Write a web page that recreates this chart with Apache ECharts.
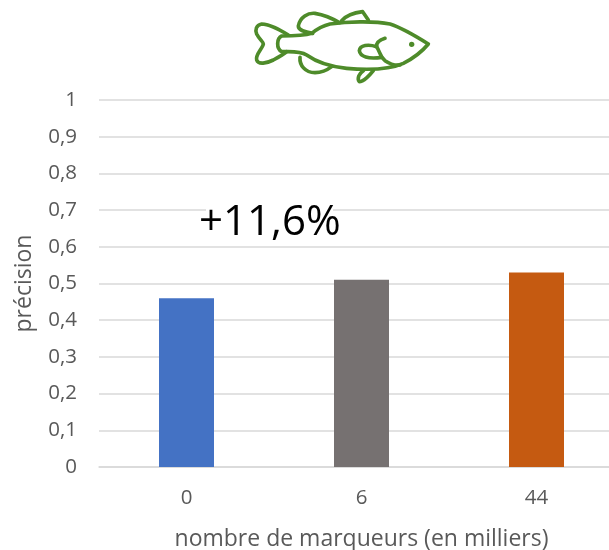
<!DOCTYPE html>
<html>
<head>
<meta charset="utf-8">
<style>html,body{margin:0;padding:0;background:#fff}#chart{width:609px;height:550px}</style>
<script src="https://cdn.jsdelivr.net/npm/echarts@6/dist/echarts.min.js"></script>
</head>
<body>
<div id="chart"></div>
<script>
const categories = ['0', '6', '44'];
const precision = [0.46, 0.51, 0.53];
const barColors = ['#4472C4', '#767171', '#C55A11'];
const gainLabel = '+11,6%';
const xTitle = 'nombre de marqueurs (en milliers)';
const yTitle = 'précision';

const FONT = '"Open Sans", sans-serif';
const INK = '#595959';

// Fish pictogram outlines, in a 3x drawing space
const fishStrokes = [
  'M145,105 C120,90 90,72 65,72 C48,75 45,90 50,102 C58,118 70,125 70,132 C68,145 45,165 50,180 C55,195 80,190 100,180 C115,172 135,160 140,155',
  'M215,100 C190,108 150,108 125,108 C110,115 108,145 125,155 C150,155 180,152 200,165 C235,190 270,200 320,205 C380,210 450,208 490,190 C520,175 550,150 565,132 C530,110 490,85 450,72 C400,62 320,65 270,72 C245,78 225,92 215,100',
  'M218,100 C190,95 175,90 175,78 C180,50 205,38 225,40 C255,45 285,60 298,68',
  'M305,62 C320,45 345,38 368,35 L385,60',
  'M180,172 C178,195 195,218 225,218 C245,218 262,210 275,200',
  'M400,212 C390,225 370,245 358,245 C350,235 358,220 370,212',
  'M410,140 C385,132 360,135 358,152 C360,170 385,178 425,172',
  'M435,115 C420,120 408,128 410,140 C420,155 420,170 435,182 C450,192 465,197 480,195'
];

// The graphic component only knows named shapes, so each outline is registered first
const fishGraphics = fishStrokes.map((d, i) => {
  const shapeName = 'fishStroke' + i;
  echarts.graphic.registerShape(shapeName, echarts.graphic.extendPath(d));
  return {
    type: shapeName,
    x: 240, y: 0, scaleX: 1 / 3, scaleY: 1 / 3,
    style: { fill: null, stroke: '#4E8B2A', lineWidth: 11, lineCap: 'round', lineJoin: 'round' }
  };
});

const chart = echarts.init(document.getElementById('chart'), null, { renderer: 'canvas' });
chart.setOption({
  animation: false,
  backgroundColor: '#fff',
  // The plot runs past the right edge of the page, so only the first 510px of its width show
  grid: { left: 99, top: 100, width: 525, height: 367, outerBoundsMode: 'none' },
  xAxis: {
    type: 'category',
    data: categories,
    name: xTitle,
    nameLocation: 'middle',
    nameGap: 61,
    nameTextStyle: { fontFamily: FONT, fontSize: 23, color: INK },
    nameMoveOverlap: false,
    axisTick: { show: false },
    axisLine: { lineStyle: { color: '#D9D9D9', width: 1.5 } },
    axisLabel: { fontFamily: FONT, fontSize: 20.5, color: INK, margin: 21 }
  },
  yAxis: {
    type: 'value',
    min: 0, max: 1, interval: 0.1,
    name: yTitle,
    nameLocation: 'middle',
    nameGap: 63,
    nameTextStyle: { fontFamily: FONT, fontSize: 23, color: INK },
    axisLine: { show: false },
    axisTick: { show: false },
    splitLine: { lineStyle: { color: '#D9D9D9', width: 1.5 } },
    axisLabel: {
      fontFamily: FONT, fontSize: 20.5, color: INK, margin: 22,
      formatter: v => String(v).replace('.', ',')
    }
  },
  series: [{
    type: 'bar',
    barWidth: 55,
    data: precision.map((v, i) => ({ value: v, itemStyle: { color: barColors[i] } }))
  }],
  // Drawn on its own layer so the gridlines stay underneath the gain label
  graphic: {
    zlevel: 1,
    elements: [
      ...fishGraphics,
      {
        type: 'circle', x: 240, y: 0, scaleX: 1 / 3, scaleY: 1 / 3,
        shape: { cx: 515, cy: 133, r: 8 }, style: { fill: '#4E8B2A' }
      },
      // White plate behind the gain label, hiding the gridline it sits on
      {
        type: 'rect', z: 1, shape: { x: 206, y: 205, width: 127, height: 34 },
        style: { fill: '#fff' }
      },
      {
        type: 'text', z: 2, x: 199, y: 223,
        style: { text: gainLabel, fontFamily: FONT, fontSize: 42, fill: '#000', textVerticalAlign: 'middle' }
      }
    ]
  }
});
</script>
</body>
</html>
